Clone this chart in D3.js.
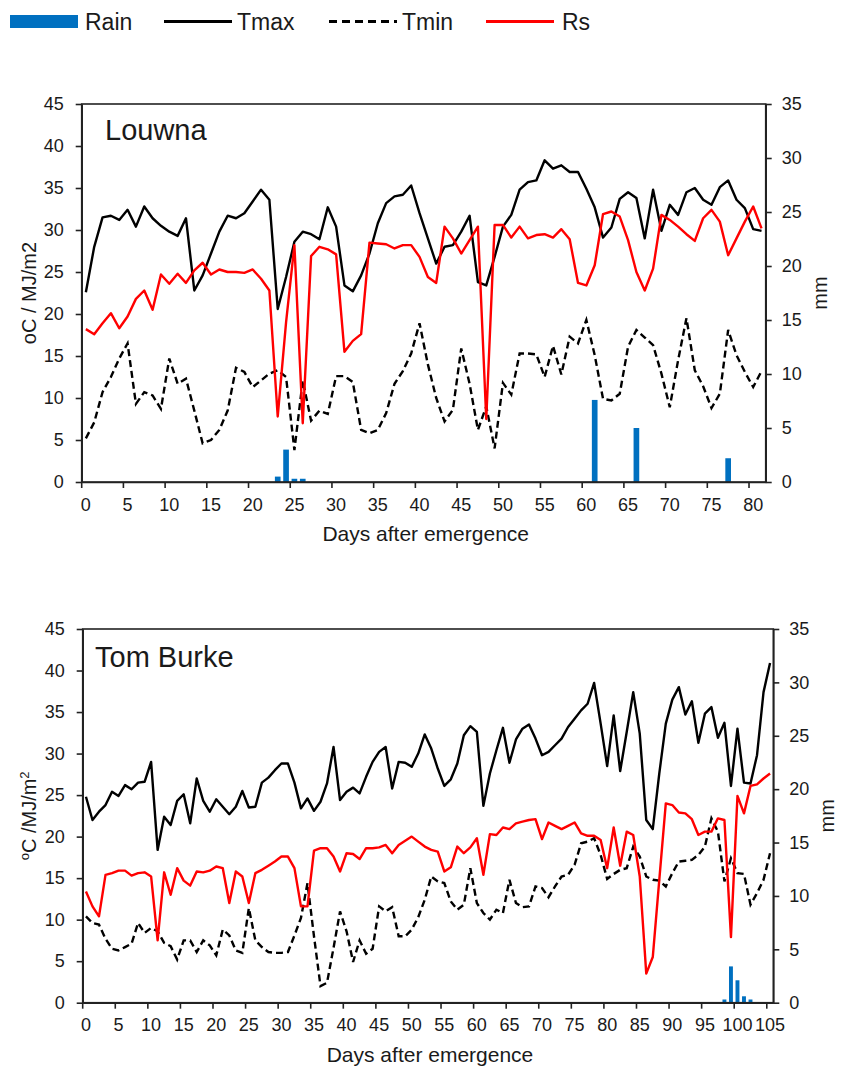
<!DOCTYPE html>
<html><head><meta charset="utf-8">
<script src="https://cdn.jsdelivr.net/npm/d3@7"></script>
<style>
body{margin:0;background:#fff}
text{font-family:"Liberation Sans",Arial,sans-serif;fill:#1a1a1a}
</style>
</head><body>
<svg id="chart" width="841" height="1067"></svg>
<script>
// ---------- DATA ----------
const louwnaTmax = [22.6,28.0,31.5,31.7,31.2,32.4,30.4,32.8,31.4,30.5,
  29.8,29.3,31.4,22.8,24.6,27.2,29.8,31.7,31.4,32.0,
  33.4,34.8,33.6,20.6,24.4,28.6,29.8,29.5,28.9,32.7,
  30.4,23.4,22.7,24.6,27.2,30.8,33.2,34.0,34.2,35.3,
  32.0,29.0,26.0,28.0,28.2,29.8,31.7,23.8,23.4,26.8,
  30.4,31.8,34.8,35.7,35.9,38.3,37.3,37.7,36.9,36.9,
  34.9,32.7,29.1,30.3,33.7,34.5,33.8,29.0,34.8,29.9,
  33.0,31.8,34.5,35.0,33.6,33.0,35.1,35.9,33.6,32.6,
  30.1,29.9];
const louwnaTmin = [5.2,7.1,10.7,12.5,14.7,16.5,9.3,10.7,10.3,8.7,
  14.7,11.7,12.3,8.5,4.6,5.0,6.2,8.5,13.6,13.1,
  11.3,12.1,12.9,13.3,12.5,3.8,12.1,7.3,8.5,8.1,
  12.6,12.6,11.9,6.2,5.8,6.2,8.2,11.7,13.2,15.3,
  18.9,14.0,10.0,7.2,8.6,15.9,11.7,6.2,9.0,4.0,
  11.8,10.4,15.3,15.3,15.2,12.5,16.2,12.8,17.3,16.5,
  19.3,15.1,9.9,9.7,10.5,16.1,18.1,17.2,16.3,12.9,
  8.9,14.5,19.5,13.3,11.4,8.8,10.5,18.1,15.1,13.1,
  11.3,13.2];
const louwnaRs = [18.2,17.6,18.9,20.1,18.3,19.7,21.8,22.8,20.5,24.7,
  23.6,24.8,23.7,25.2,26.1,24.7,25.3,25.0,25.0,24.9,
  25.3,24.2,22.8,7.8,19.0,28.2,7.0,26.9,28.0,27.7,
  27.1,15.5,16.8,17.6,28.5,28.4,28.3,27.8,28.2,28.2,
  26.8,24.4,23.7,30.4,29.0,27.2,28.8,30.4,7.5,30.6,
  30.6,29.1,30.4,29.0,29.4,29.5,29.1,30.1,28.9,23.7,
  23.4,25.8,31.9,32.2,31.6,28.8,25.0,22.8,25.4,31.8,
  31.2,30.4,29.5,28.7,31.4,32.4,31.0,27.0,29.0,31.0,
  32.8,30.2];
const louwnaRainDays = [23,24,25,26,61,66,77];
const louwnaRain     = [0.5,3.0,0.3,0.3,7.6,5.0,2.2];

const tomTmax = [24.8,22.0,23.0,23.8,25.4,24.9,26.2,25.7,26.5,26.6,
  29.0,18.4,22.4,21.4,24.3,25.1,21.6,27.0,24.3,23.0,
  24.5,23.6,22.7,23.6,25.5,23.5,23.6,26.5,27.1,28.0,
  28.8,28.8,26.5,23.4,24.6,23.1,24.2,26.4,30.8,24.4,
  25.4,25.9,25.2,27.2,29.0,30.2,30.8,25.8,29.0,28.9,
  28.4,30.0,32.3,30.6,28.2,26.1,26.9,28.8,32.2,33.3,
  32.6,23.7,27.6,30.4,33.1,28.9,31.7,33.0,33.5,31.8,
  29.8,30.2,31.0,31.8,33.2,34.2,35.2,36.0,38.5,33.6,
  28.5,34.6,27.9,32.6,37.4,32.4,22.0,20.9,27.6,33.6,
  36.5,38.0,34.7,36.3,31.3,34.8,35.6,31.9,33.7,26.1,
  33.0,26.5,26.4,29.8,37.4,40.9];
const tomTmin = [10.4,9.6,9.4,7.7,6.5,6.3,6.7,7.1,9.6,8.4,
  9.0,8.6,7.2,6.8,5.2,7.5,7.5,6.1,7.5,6.9,
  5.7,8.8,8.1,6.3,6.0,11.4,7.5,6.7,6.1,6.0,
  6.0,6.1,8.1,10.2,14.4,8.0,2.0,2.4,6.6,11.0,
  8.6,4.9,7.5,5.9,6.5,11.6,11.0,11.5,8.0,8.0,
  8.8,10.3,12.4,15.2,14.6,14.4,12.2,11.2,11.8,16.2,
  12.0,10.8,10.0,11.2,10.8,14.8,12.0,11.5,11.6,14.0,
  13.8,12.7,14.0,15.2,15.4,16.6,19.2,19.4,19.8,17.8,
  14.9,15.5,16.0,16.2,18.8,17.6,15.2,14.8,14.7,14.0,
  15.6,17.0,17.1,17.2,17.8,18.8,22.2,20.6,14.6,17.4,
  15.6,15.5,11.8,13.2,14.8,18.0];
const tomRs = [13.4,11.6,10.4,15.4,15.6,15.9,15.9,15.3,15.6,15.7,
  15.2,7.5,15.7,13.0,16.2,14.7,14.1,15.8,15.7,15.9,
  16.4,16.2,12.0,15.8,15.2,12.0,15.6,16.0,16.5,17.0,
  17.6,17.6,16.2,11.6,11.6,18.3,18.6,18.6,17.6,15.8,
  18.0,17.9,17.3,18.6,18.6,18.7,19.0,18.0,19.0,19.5,
  20.0,19.4,18.8,18.4,18.2,15.8,16.3,18.8,18.0,18.7,
  19.8,15.4,20.3,20.2,21.1,20.9,21.6,21.8,22.0,22.1,
  19.7,21.7,21.3,20.9,21.3,21.7,20.4,20.1,20.1,19.6,
  16.2,21.1,16.5,20.6,20.2,15.2,3.5,5.5,14.8,24.0,
  23.8,22.9,22.8,22.1,20.2,20.6,20.6,22.2,22.0,7.9,
  24.9,22.8,26.1,26.3,27.0,27.6];
const tomRainDays = [98,99,100,101,102];
const tomRain     = [0.3,3.4,2.1,0.6,0.3];

const tempTicks = [0,5,10,15,20,25,30,35,40,45];
const rainTicks = [0,5,10,15,20,25,30,35];
const legendNames = ["Rain","Tmax","Tmin","Rs"];

// ---------- STYLE / LAYOUT ----------
const COL = {rain:"#0070c0", tmax:"#000000", tmin:"#000000", rs:"#ff0000"};
const svg = d3.select("#chart");
svg.append("rect").attr("width",841).attr("height",1067).attr("fill","#fff");

const panels = [
  {title:"Louwna", tmax:louwnaTmax, tmin:louwnaTmin, rs:louwnaRs, rainDays:louwnaRainDays, rain:louwnaRain,
   left:81.7, right:765.7, top:104, bottom:482, titleX:105, titleY:140,
   yTitle:[{t:"oC / MJ/m2"}], barFrac:0.68},
  {title:"Tom Burke", tmax:tomTmax, tmin:tomTmin, rs:tomRs, rainDays:tomRainDays, rain:tomRain,
   left:82.7, right:773.3, top:629, bottom:1002.7, titleX:95, titleY:667,
   yTitle:[{t:"o",sup:true},{t:"C /MJ/m"},{t:"2",sup:true}], barFrac:0.6}
];

panels.forEach(p => {
  const days = p.tmax.map((_, i) => i);
  const x = d3.scaleBand().domain(days).range([p.left, p.right]).padding(0);
  const cx = d => x(d) + x.bandwidth() / 2;
  const y = d3.scaleLinear().domain([0, 45]).range([p.bottom, p.top]);
  const yr = d3.scaleLinear().domain([0, 35]).range([p.bottom, p.top]);
  const g = svg.append("g");

  // rain bars
  const bw = x.bandwidth() * p.barFrac;
  g.selectAll("rect.rain").data(p.rainDays.map((d, i) => ({d, v: p.rain[i]})))
    .join("rect").attr("class","rain")
    .attr("x", o => cx(o.d) - bw / 2).attr("width", bw)
    .attr("y", o => yr(o.v)).attr("height", o => yr(0) - yr(o.v))
    .attr("fill", COL.rain);

  const line = d3.line().x((v, i) => cx(i)).y(v => y(v));
  g.append("path").datum(p.tmin).attr("d", line).attr("fill","none")
    .attr("stroke", COL.tmin).attr("stroke-width", 2.4).attr("stroke-dasharray","7,4");
  g.append("path").datum(p.tmax).attr("d", line).attr("fill","none")
    .attr("stroke", COL.tmax).attr("stroke-width", 2.4).attr("stroke-linejoin","round");
  g.append("path").datum(p.rs).attr("d", line).attr("fill","none")
    .attr("stroke", COL.rs).attr("stroke-width", 2.4).attr("stroke-linejoin","round");

  // frame
  g.append("rect").attr("x", p.left).attr("y", p.top)
    .attr("width", p.right - p.left).attr("height", p.bottom - p.top)
    .attr("fill","none").attr("stroke","#222").attr("stroke-width",1.6);

  // left axis
  const ga = g.append("g").attr("transform",`translate(${p.left},0)`)
    .call(d3.axisLeft(y).tickValues(tempTicks).tickSize(6).tickSizeOuter(0).tickPadding(12));
  // right axis
  const gr = g.append("g").attr("transform",`translate(${p.right},0)`)
    .call(d3.axisRight(yr).tickValues(rainTicks).tickSize(6).tickSizeOuter(0).tickPadding(10));
  // bottom axis: labels at category centres, tick marks at category boundaries
  const labelDays = days.filter(d => d % 5 === 0);
  const gb = g.append("g").attr("transform",`translate(0,${p.bottom})`)
    .call(d3.axisBottom(x).tickValues(labelDays).tickSize(0).tickPadding(16));
  gb.selectAll(".tick line").remove();
  gb.selectAll("line.bt").data(labelDays).join("line").attr("class","bt")
    .attr("x1", d => x(d)).attr("x2", d => x(d)).attr("y1", 0).attr("y2", 6)
    .attr("stroke","#222").attr("stroke-width",1.6);

  [ga, gr, gb].forEach(a => {
    a.selectAll(".domain").attr("stroke","#222").attr("stroke-width",1.6);
    a.selectAll(".tick line").attr("stroke","#222").attr("stroke-width",1.6);
    a.selectAll("text").attr("font-size", 18).attr("font-family",'"Liberation Sans",Arial,sans-serif').attr("fill","#1a1a1a");
  });

  // titles
  g.append("text").attr("x", p.titleX).attr("y", p.titleY).attr("font-size", 29).text(p.title);
  g.append("text").attr("x", (p.left + p.right) / 2 + 2).attr("y", p.bottom + 59)
    .attr("text-anchor","middle").attr("font-size", 21).text("Days after emergence");
  const midY = (p.top + p.bottom) / 2;
  const lt = g.append("text").attr("transform",`translate(36,${midY}) rotate(-90)`)
    .attr("text-anchor","middle").attr("font-size", 20);
  p.yTitle.forEach(s => {
    const ts = lt.append("tspan").text(s.t);
    if (s.sup) ts.attr("font-size", 13).attr("baseline-shift","super");
  });
  g.append("text").attr("transform",`translate(${p.right + 61},${midY}) rotate(-90)`)
    .attr("text-anchor","middle").attr("font-size", 20).text("mm");
});

// ---------- LEGEND ----------
const lg = svg.append("g");
const legendPos = [{x:10, tx:85},{x:164, tx:237},{x:329, tx:402},{x:486, tx:562}];
legendNames.forEach((n, i) => {
  const pos = legendPos[i];
  if (n === "Rain") {
    lg.append("rect").attr("x", pos.x).attr("y", 15).attr("width", 68).attr("height", 13).attr("fill", COL.rain);
  } else {
    lg.append("line").attr("x1", pos.x).attr("x2", pos.x + 68).attr("y1", 21.5).attr("y2", 21.5)
      .attr("stroke", n === "Rs" ? COL.rs : "#000").attr("stroke-width", 3)
      .attr("stroke-dasharray", n === "Tmin" ? "8,5" : null);
  }
  lg.append("text").attr("x", pos.tx).attr("y", 30).attr("font-size", 23).text(n);
});
</script>
</body></html>
